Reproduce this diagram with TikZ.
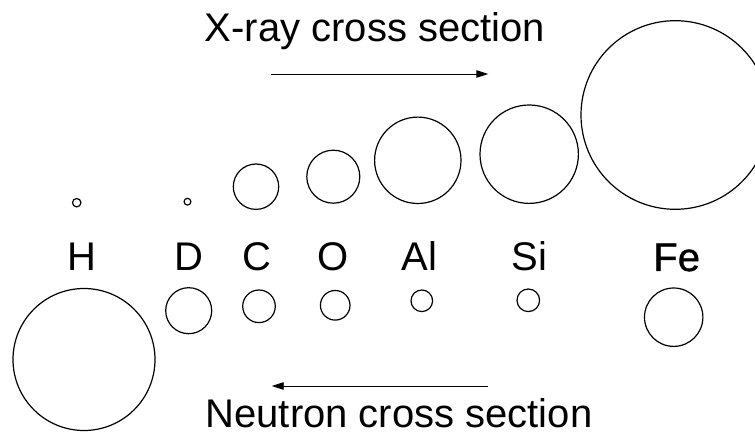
\documentclass[tikz,border=0pt]{standalone}
\usepackage{fontspec}
\setmainfont{Liberation Sans}
\newfontfamily\heavyfont[FakeBold=1]{Liberation Sans}
\usetikzlibrary{arrows.meta}

\tikzset{
  ring/.style={circle, draw, line width=1.2pt, inner sep=0pt, minimum size=#1},
  elem/.style={anchor=base, inner sep=0pt, font=\fontsize{40}{48}\selectfont},
  headline/.style={anchor=base, inner sep=0pt, font=\fontsize{40}{48}\selectfont},
  trend/.style={line width=0.9pt, -{Triangle[length=12pt,width=7.5pt]}}
}

\begin{document}
\begin{tikzpicture}[x=1pt, y=-1pt]
  \useasboundingbox (0,0) rectangle (755,435);

  % headings
  \node[headline] (xtitle) at (375,41.7) {X-ray cross section};
  \node[headline] (ntitle) at (399,428) {Neutron cross section};

  % direction arrows
  \coordinate (xa) at (270.7,74);
  \coordinate (xb) at (488.3,74);
  \coordinate (na) at (488.3,386);
  \coordinate (nb) at (271.7,386);
  \draw[trend] (xa) -- (xb);
  \draw[trend] (na) -- (nb);

  % element labels
  \node[elem] (lH)  at (81.7,271)  {H};
  \node[elem] (lD)  at (188.8,271) {D};
  \node[elem] (lC)  at (257,271)   {C};
  \node[elem] (lO)  at (333,271)   {O};
  \node[elem] (lAl) at (419.2,271) {Al};
  \node[elem] (lSi) at (529.2,271) {Si};
  \node[elem] (lFe) at (676.7,271) {\heavyfont Fe};

  % X-ray cross sections (above the labels)
  \node[ring=8.4pt]   (xH)  at (76.7,202.7)  {};
  \node[ring=6.8pt]   (xD)  at (187.5,201.7) {};
  \node[ring=45.4pt]  (xC)  at (256,186.7)   {};
  \node[ring=53pt]    (xO)  at (333.3,176.7) {};
  \node[ring=86.4pt]  (xAl) at (417.8,160.3) {};
  \node[ring=98.4pt]  (xSi) at (529.2,154.2) {};
  % the iron circle runs past the right edge
  \begin{scope}
    \clip (0,0) rectangle (755,435);
    \node[ring=188.6pt] (xFe) at (675.3,115) {};
  \end{scope}

  % neutron cross sections (below the labels)
  \node[ring=142pt]   (nH)  at (84,359.5)    {};
  \node[ring=46pt]    (nD)  at (188.7,310.7) {};
  \node[ring=32.6pt]  (nC)  at (259,306.3)   {};
  \node[ring=29.6pt]  (nO)  at (335.2,305.3) {};
  \node[ring=21.6pt]  (nAl) at (421.8,300.8) {};
  \node[ring=22.6pt]  (nSi) at (528.3,300.3) {};
  \node[ring=58.4pt]  (nFe) at (673.7,317.2) {};
\end{tikzpicture}
\end{document}
